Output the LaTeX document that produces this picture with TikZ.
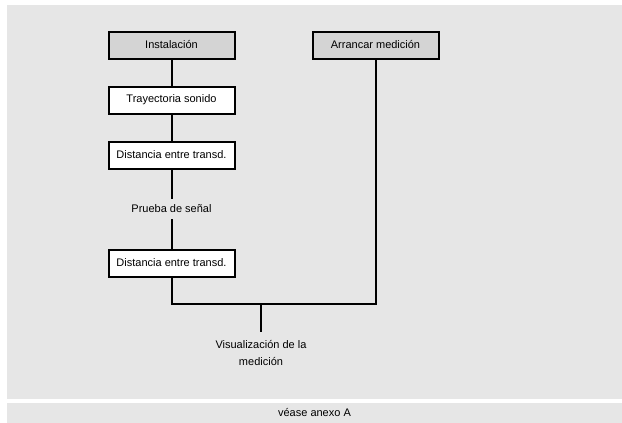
\documentclass[tikz,border=0pt]{standalone}
\usepackage{fontspec}
\setmainfont{Liberation Sans}
\usetikzlibrary{positioning}
\definecolor{panelGray}{HTML}{E6E6E6}
\definecolor{headGray}{HTML}{D4D4D4}

\begin{document}
\begin{tikzpicture}[x=1pt,y=-1pt,font=\fontsize{11}{17}\selectfont,
  stepbox/.style={draw,line width=2pt,fill=white,minimum width=126pt,minimum height=27pt,inner sep=0pt},
  headbox/.style={stepbox,fill=headGray},
  plain/.style={inner sep=6pt,align=center},
  wire/.style={line width=2pt}]
  \useasboundingbox (0,0) rectangle (622,423);
  \fill[panelGray] (7,5) rectangle (622,399);
  \fill[panelGray] (7,403) rectangle (622,423);
  \node[headbox] (inst) at (171.5,45) {Instalación};
  \node[headbox] (start) at (375.5,45) {Arrancar medición};
  \node[stepbox] (path) at (171.5,100) {Trayectoria sonido};
  \node[stepbox] (dist1) at (171.5,155) {Distancia entre transd.};
  \node[plain] (test) at (171.5,209) {Prueba de señal};
  \node[stepbox] (dist2) at (171.5,263) {Distancia entre transd.};
  \coordinate (join) at (261,304);
  \node[plain,anchor=north,inner sep=0pt] (show) at (261,340) {Visualización de la\\medición};
  \node (annex) at (314.5,413) {véase anexo A};
  \draw[wire] (inst) -- (path);
  \draw[wire] (path) -- (dist1);
  \draw[wire] (dist1) -- (test);
  \draw[wire] (test) -- (dist2);
  \draw[wire] (dist2.south) |- (join);
  \draw[wire] (start.south) |- (join);
  \draw[wire] (join) -- (261,332);
\end{tikzpicture}
\end{document}
